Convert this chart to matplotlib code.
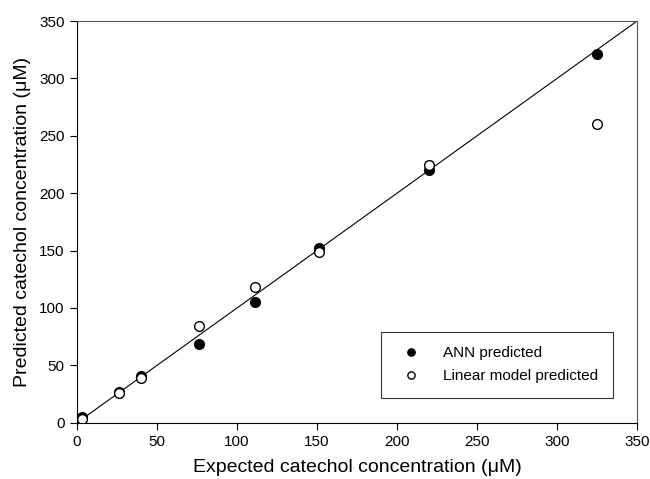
import matplotlib
matplotlib.use("Agg")
import matplotlib.pyplot as plt

plt.rcParams['font.family'] = ['Liberation Sans', 'DejaVu Sans']

# expected concentrations (uM)
expected = [3, 26, 40, 76, 111, 151, 220, 325]
# model predictions
ann_pred = [5, 27, 41, 69, 105, 152, 220, 321]
lin_pred = [3, 26, 39, 84, 118, 149, 225, 260]

fig = plt.figure(figsize=(6.5, 4.79), dpi=100)
ax = fig.add_axes([0.1185, 0.1175, 0.8615, 0.8385])

ax.plot([0, 350], [0, 350], color='black', lw=0.8)
ax.plot(expected, ann_pred, 'o', color='black', markersize=7,
        label='ANN predicted')
ax.plot(expected, lin_pred, 'o', markerfacecolor='white', markeredgecolor='black',
        markeredgewidth=1.0, markersize=7, label='Linear model predicted')

ax.set_xlim(0, 350)
ax.set_ylim(0, 350)
ax.set_xticks(range(0, 351, 50))
ax.set_yticks(range(0, 351, 50))
ax.tick_params(labelsize=11, direction='out', length=5, width=0.8, pad=4)
ax.set_xlabel('Expected catechol concentration (\u03bcM)', fontsize=14, labelpad=7)
ax.set_ylabel('Predicted catechol concentration (\u03bcM)', fontsize=14, labelpad=6)

for s in ['top', 'right']:
    ax.spines[s].set_color('#555555')

leg = ax.legend(loc='lower right', bbox_to_anchor=(0.97, 0.043), fontsize=11,
                frameon=True, fancybox=False, edgecolor='black', markerscale=0.75,
                handletextpad=1.1, borderpad=0.95, labelspacing=0.6)
leg.get_frame().set_linewidth(0.8)

fig.savefig('out.png', dpi=100)
